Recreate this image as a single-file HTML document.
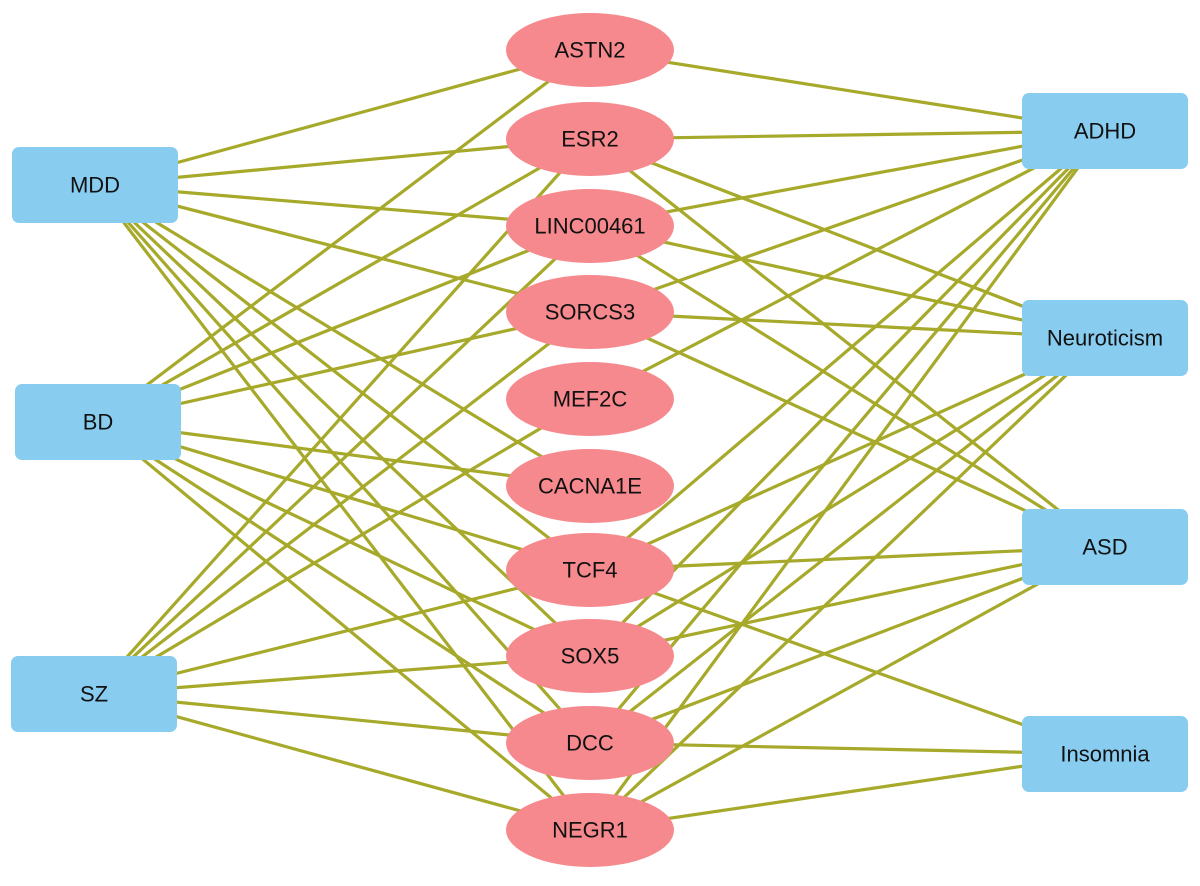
<!DOCTYPE html>
<html><head><meta charset="utf-8"><style>
html,body{margin:0;padding:0;background:#fff;}
svg{display:block;}
text{font-family:"Liberation Sans",Arial,sans-serif;font-size:22px;fill:#111;text-anchor:middle;dominant-baseline:central;}
</style></head><body>
<svg width="1200" height="886" viewBox="0 0 1200 886" xmlns="http://www.w3.org/2000/svg">
<g id="edges" stroke="#a6a92a" stroke-width="3.2" fill="none"></g>
<g id="nodes"></g>
</svg>
<script>
var L={MDD:[95,185],BD:[98,422],SZ:[94,694]};
var R={ADHD:[1105,131],Neuroticism:[1105,338],ASD:[1105,547],Insomnia:[1105,754]};
var G={ASTN2:50,ESR2:139,LINC00461:226,SORCS3:312,MEF2C:399,CACNA1E:486,TCF4:570,SOX5:656,DCC:743,NEGR1:830};
var E=[
["MDD",["ASTN2","ESR2","LINC00461","SORCS3","CACNA1E","TCF4","SOX5","DCC","NEGR1"]],
["BD",["ASTN2","ESR2","LINC00461","SORCS3","CACNA1E","TCF4","SOX5","DCC","NEGR1"]],
["SZ",["ESR2","LINC00461","SORCS3","MEF2C","TCF4","SOX5","DCC","NEGR1"]],
["ADHD",["ASTN2","ESR2","LINC00461","SORCS3","MEF2C","TCF4","SOX5","DCC","NEGR1"]],
["Neuroticism",["ESR2","LINC00461","SORCS3","TCF4","SOX5","DCC","NEGR1"]],
["ASD",["ESR2","LINC00461","SORCS3","TCF4","SOX5","DCC","NEGR1"]],
["Insomnia",["TCF4","DCC","NEGR1"]]];
var ns="http://www.w3.org/2000/svg",eg=document.getElementById("edges"),ng=document.getElementById("nodes");
function el(t,a,p){var e=document.createElementNS(ns,t);for(var k in a)e.setAttribute(k,a[k]);p.appendChild(e);return e;}
E.forEach(function(r){var p=L[r[0]]||R[r[0]];r[1].forEach(function(g){el("line",{x1:p[0],y1:p[1],x2:590,y2:G[g]},eg);});});
function rect(n,p){el("rect",{x:p[0]-83,y:p[1]-38,width:166,height:76,rx:7,fill:"#88cdf0"},ng);var t=el("text",{x:p[0],y:p[1]},ng);t.textContent=n;}
for(var k in L)rect(k,L[k]);for(var k in R)rect(k,R[k]);
for(var k in G){el("ellipse",{cx:590,cy:G[k],rx:84,ry:37,fill:"#f6898d"},ng);var t=el("text",{x:590,y:G[k]},ng);t.textContent=k;}
</script>
</body></html>
